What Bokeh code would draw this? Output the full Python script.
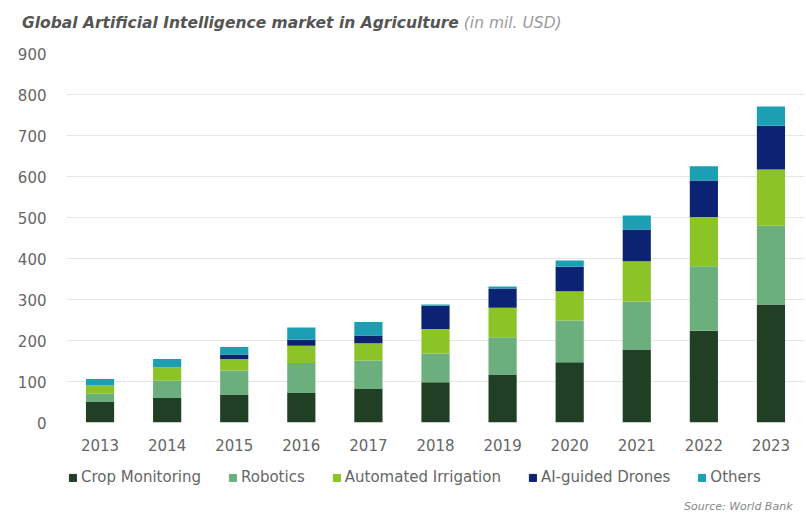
from bokeh.plotting import figure
from bokeh.layouts import column
from bokeh.models import (Range1d, FactorRange, Legend, LegendItem, Label,
                          FixedTicker, ColumnDataSource, Div)
from bokeh.embed import file_html
from bokeh.resources import INLINE

years = ["2013", "2014", "2015", "2016", "2017", "2018", "2019", "2020", "2021", "2022", "2023"]
series_names = ["Crop Monitoring", "Robotics", "Automated Irrigation", "AI-guided Drones", "Others"]
crop_monitoring = [50, 60, 68, 72, 82, 98, 117, 147, 178, 224, 288]
robotics = [20, 42, 59, 73, 69, 70, 91, 102, 117, 157, 192]
automated_irrigation = [20, 33, 28, 42, 42, 60, 72, 71, 98, 120, 137]
ai_guided_drones = [0, 0, 11, 15, 19, 57, 47, 60, 78, 89, 107]
others = [16, 20, 18, 30, 33, 3, 5, 15, 34, 35, 47]
y_ticks = [0, 100, 200, 300, 400, 500, 600, 700, 800, 900]
title_main = "Global Artificial Intelligence market in Agriculture"
title_unit = "(in mil. USD)"
source_note = "Source: World Bank"

colors = ["#213f25", "#6bb07c", "#8cc327", "#0c2272", "#1c9fb3"]
keys = ["crop", "robotics", "irrigation", "drones", "others"]

source = ColumnDataSource(dict(
    years=years, crop=crop_monitoring, robotics=robotics,
    irrigation=automated_irrigation, drones=ai_guided_drones, others=others))

FONT = "DejaVu Sans"
GRAY = "#666666"

# --- title strip (HTML text) ---
title_html = (
    '<div style="padding:14px 0 0 22px; font-family:\'DejaVu Sans\'; font-size:15.5px; '
    'line-height:18px; white-space:nowrap;">'
    '<span style="font-weight:bold; font-style:italic; color:#555555;">%s</span> '
    '<span style="font-style:italic; color:#9a9a9a;">%s</span></div>' % (title_main, title_unit)
)
top = Div(text=title_html, width=806, height=43, margin=(0, 0, 0, 0))

# --- main chart ---
p = figure(frame_width=738, frame_height=369, x_range=FactorRange(*years),
           y_range=Range1d(0, 900), output_backend="svg", toolbar_location=None,
           min_border_left=66, min_border_right=2, min_border_top=10,
           min_border_bottom=32)

renderers = p.vbar_stack(keys, x="years", width=0.42, color=colors, source=source,
                         line_color=None)

p.outline_line_color = None
p.background_fill_color = "white"
p.border_fill_color = "white"
p.xgrid.grid_line_color = None
p.ygrid.grid_line_color = "#e6e6e6"
p.ygrid.grid_line_width = 1
p.yaxis.ticker = FixedTicker(ticks=y_ticks)
for ax in (p.xaxis, p.yaxis):
    ax.axis_line_color = None
    ax.major_tick_line_color = None
    ax.minor_tick_line_color = None
    ax.major_label_text_font = FONT
    ax.major_label_text_color = GRAY
    ax.major_label_text_font_size = "15px"
p.xaxis.major_label_standoff = 10
p.yaxis.major_label_standoff = 14
p.x_range.range_padding = 0.0

# --- legend + source strip (frame aligned with the chart's frame) ---
bottom = figure(frame_width=738, frame_height=69, x_range=Range1d(66, 804),
                y_range=Range1d(0, 69), output_backend="svg", toolbar_location=None,
                min_border_left=66, min_border_right=2, min_border_top=0,
                min_border_bottom=0)
bottom.axis.visible = False
bottom.grid.visible = False
bottom.outline_line_color = None
bottom.background_fill_color = "white"
bottom.border_fill_color = "white"

legend_src = ColumnDataSource(dict(x=[-5000], top=[0]))
legend_renderers = [bottom.vbar(x="x", top="top", width=1, color=c, source=legend_src)
                    for c in colors]
items = [LegendItem(label=n, renderers=[r]) for n, r in zip(series_names, legend_renderers)]
legend = Legend(items=items, orientation="horizontal", location=(2, 37),
                border_line_color=None, background_fill_alpha=0,
                label_text_font=FONT, label_text_font_size="15px",
                label_text_color=GRAY, glyph_width=9, glyph_height=9,
                label_standoff=4, spacing=27, padding=0, margin=0)
bottom.add_layout(legend, "center")
bottom.add_layout(Label(x=792, y=17, text=source_note, text_align="right",
                        text_baseline="middle", text_font=FONT, text_font_style="italic",
                        text_font_size="11px", text_color="#888888"))

layout = column(top, p, bottom, spacing=0)
open("out.html", "w").write(file_html(layout, INLINE))
